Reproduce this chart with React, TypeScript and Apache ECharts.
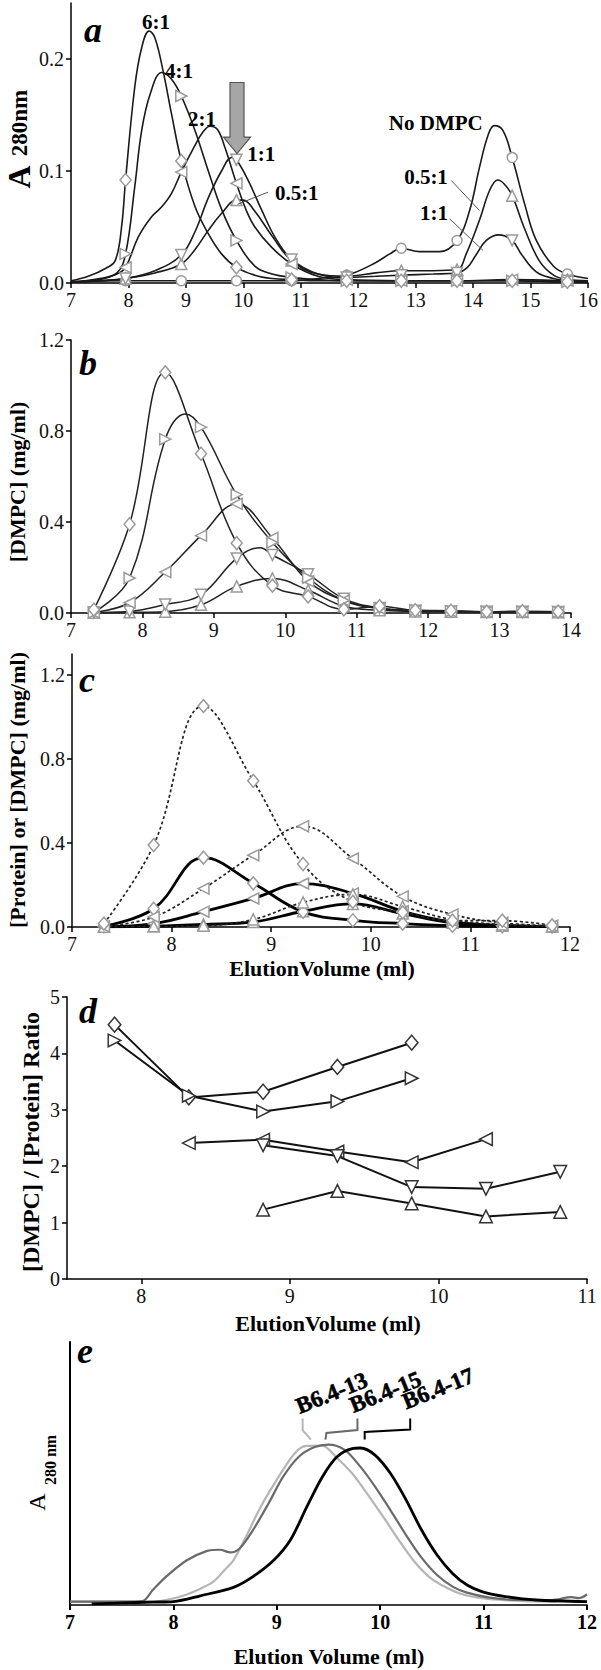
import React, { useEffect, useRef } from "react";
import * as echarts from "echarts";

type Pt = [number, number];

const SERIF = '"Liberation Serif", "Times New Roman", serif';

// ---------------- Panel a : A280 elution profiles ----------------
const A_MARKER_X = [7.95, 8.92, 9.88, 10.84, 11.8, 12.75, 13.72, 14.68, 15.64];
const A_61: Pt[] = [[7.0,0.002],[7.3,0.006],[7.6,0.013],[7.77,0.02],[7.88,0.05],[7.95,0.092],[8.11,0.175],[8.23,0.21],[8.36,0.225],[8.46,0.219],[8.6,0.19],[8.75,0.151],[8.92,0.109],[9.16,0.068],[9.39,0.044],[9.62,0.026],[9.88,0.014],[10.2,0.007],[10.5,0.004],[10.84,0.003],[11.3,0.002],[11.8,0.002],[12.75,0.002],[13.72,0.002],[14.68,0.002],[15.64,0.001],[16.0,0.001]];
const A_41: Pt[] = [[7.0,0.001],[7.5,0.004],[7.8,0.009],[7.95,0.026],[8.11,0.086],[8.23,0.136],[8.38,0.169],[8.58,0.188],[8.75,0.182],[8.92,0.167],[9.16,0.136],[9.39,0.1],[9.62,0.066],[9.88,0.038],[10.2,0.015],[10.5,0.008],[10.84,0.005],[11.3,0.003],[11.8,0.002],[12.75,0.002],[13.72,0.002],[14.68,0.002],[15.64,0.001],[16.0,0.001]];
const A_21: Pt[] = [[7.0,0.001],[7.5,0.003],[7.8,0.008],[7.95,0.014],[8.17,0.041],[8.4,0.059],[8.58,0.068],[8.75,0.08],[8.92,0.099],[9.16,0.123],[9.3,0.135],[9.42,0.14],[9.55,0.137],[9.68,0.121],[9.88,0.089],[10.05,0.065],[10.2,0.05],[10.49,0.032],[10.84,0.017],[11.3,0.006],[11.8,0.003],[12.75,0.002],[13.72,0.002],[14.68,0.003],[15.64,0.002],[16.0,0.001]];
const A_11: Pt[] = [[7.0,0.001],[7.5,0.002],[7.95,0.004],[8.46,0.011],[8.92,0.025],[9.16,0.046],[9.39,0.076],[9.62,0.1],[9.8,0.112],[9.88,0.11],[10.08,0.092],[10.32,0.065],[10.55,0.041],[10.84,0.021],[11.3,0.008],[11.8,0.005],[12.3,0.006],[12.75,0.007],[13.3,0.008],[13.72,0.009],[13.9,0.014],[14.05,0.025],[14.23,0.038],[14.45,0.043],[14.68,0.038],[14.85,0.025],[15.1,0.01],[15.4,0.004],[15.64,0.002],[16.0,0.001]];
const A_051: Pt[] = [[7.0,0.001],[7.5,0.002],[7.95,0.004],[8.46,0.009],[8.92,0.017],[9.16,0.03],[9.39,0.047],[9.62,0.062],[9.88,0.074],[10.0,0.074],[10.2,0.064],[10.5,0.042],[10.84,0.02],[11.3,0.008],[11.8,0.006],[12.3,0.009],[12.75,0.011],[13.3,0.011],[13.72,0.012],[13.88,0.026],[14.11,0.056],[14.29,0.083],[14.43,0.092],[14.55,0.088],[14.68,0.078],[14.9,0.048],[15.15,0.02],[15.4,0.007],[15.64,0.003],[16.0,0.002]];
const A_NODMPC: Pt[] = [[7.0,0.001],[7.95,0.002],[8.92,0.002],[9.88,0.002],[10.84,0.002],[11.3,0.004],[11.8,0.007],[12.26,0.017],[12.55,0.026],[12.75,0.031],[13.07,0.028],[13.42,0.028],[13.72,0.038],[13.94,0.065],[14.11,0.103],[14.26,0.132],[14.37,0.1405],[14.52,0.136],[14.68,0.112],[14.9,0.07],[15.1,0.038],[15.4,0.015],[15.64,0.008],[16.0,0.004]];
const A_Y_LABELS = [0, 0.1, 0.2];

// ---------------- Panel b : [DMPC] ----------------
const B_X = [7.32, 7.82, 8.32, 8.82, 9.32, 9.82, 10.32, 10.82, 11.32, 11.82, 12.32, 12.82, 13.32, 13.82];
const B_61: Pt[] = [[7.32,0.015],[7.82,0.39],[8.32,1.058],[8.82,0.7],[9.32,0.307],[9.82,0.12],[10.32,0.073],[10.82,0.016],[11.32,0.03],[11.82,0.012],[12.32,0.01],[12.82,0.006],[13.32,0.008],[13.82,0.006]];
const B_41: Pt[] = [[7.32,0.003],[7.82,0.154],[8.32,0.764],[8.6,0.875],[8.82,0.817],[9.32,0.52],[9.82,0.31],[10.32,0.155],[10.82,0.055],[11.32,0.02],[11.82,0.012],[12.32,0.008],[12.82,0.006],[13.32,0.006],[13.82,0.005]];
const B_21: Pt[] = [[7.32,0.002],[7.82,0.045],[8.32,0.18],[8.82,0.34],[9.32,0.48],[9.82,0.33],[10.32,0.14],[10.82,0.055],[11.32,0.02],[11.82,0.01],[12.32,0.007],[12.82,0.005],[13.32,0.005],[13.82,0.004]];
const B_11: Pt[] = [[7.32,0.002],[7.82,0.007],[8.32,0.037],[8.82,0.08],[9.32,0.24],[9.65,0.287],[9.82,0.255],[10.32,0.17],[10.82,0.063],[11.32,0.022],[11.82,0.01],[12.32,0.007],[12.82,0.005],[13.32,0.005],[13.82,0.004]];
const B_051: Pt[] = [[7.32,0.001],[7.82,0.003],[8.32,0.006],[8.82,0.036],[9.32,0.117],[9.82,0.152],[10.32,0.1],[10.82,0.03],[11.32,0.012],[11.82,0.007],[12.32,0.005],[12.82,0.004],[13.32,0.004],[13.82,0.003]];
const B_Y_LABELS = [0, 0.4, 0.8, 1.2];

// ---------------- Panel c : [Protein] (solid) or [DMPC] (dotted) ----------------
const C_X = [7.32, 7.82, 8.32, 8.82, 9.32, 9.82, 10.32, 10.82, 11.32, 11.82];
const C_61_DMPC: Pt[] = [[7.32,0.016],[7.82,0.39],[8.32,1.052],[8.82,0.696],[9.32,0.3],[9.82,0.12],[10.32,0.07],[10.82,0.03],[11.32,0.03],[11.82,0.008]];
const C_61_PROT: Pt[] = [[7.32,0.003],[7.82,0.087],[8.32,0.33],[8.82,0.208],[9.32,0.072],[9.82,0.032],[10.32,0.016],[10.82,0.006],[11.32,0.003],[11.82,0.002]];
const C_21_DMPC: Pt[] = [[7.32,0.003],[7.82,0.048],[8.32,0.183],[8.82,0.342],[9.32,0.48],[9.82,0.326],[10.32,0.146],[10.82,0.06],[11.32,0.02],[11.82,0.006]];
const C_21_PROT: Pt[] = [[7.32,0.002],[7.82,0.016],[8.32,0.073],[8.82,0.136],[9.32,0.207],[9.82,0.16],[10.32,0.075],[10.82,0.024],[11.32,0.008],[11.82,0.003]];
const C_051_DMPC: Pt[] = [[7.32,0.001],[7.82,0.003],[8.32,0.006],[8.82,0.036],[9.32,0.117],[9.82,0.155],[10.32,0.097],[10.82,0.035],[11.32,0.012],[11.82,0.004]];
const C_051_PROT: Pt[] = [[7.32,0.001],[7.82,0.004],[8.32,0.012],[8.82,0.024],[9.32,0.075],[9.82,0.11],[10.32,0.064],[10.82,0.02],[11.32,0.006],[11.82,0.002]];
const C_Y_LABELS = [0, 0.4, 0.8, 1.2];

// ---------------- Panel d : [DMPC]/[Protein] ratio ----------------
const D_61: Pt[] = [[7.82,4.51],[8.32,3.22],[8.82,3.32],[9.32,3.76],[9.82,4.19]];
const D_41: Pt[] = [[7.82,4.23],[8.32,3.25],[8.82,2.97],[9.32,3.15],[9.82,3.56]];
const D_21: Pt[] = [[8.32,2.41],[8.82,2.47],[9.32,2.26],[9.82,2.07],[10.32,2.48]];
const D_11: Pt[] = [[8.82,2.37],[9.32,2.18],[9.82,1.63],[10.32,1.6],[10.82,1.9]];
const D_051: Pt[] = [[8.82,1.23],[9.32,1.56],[9.82,1.34],[10.32,1.11],[10.82,1.19]];
const D_X_LABELS = [8, 9, 10, 11];

// ---------------- Panel e : A280 of B6.4 peptides ----------------
const E_13: Pt[] = [[7.0,0.013],[7.5,0.013],[7.84,0.014],[8.0,0.025],[8.13,0.04],[8.25,0.06],[8.39,0.09],[8.5,0.135],[8.58,0.17],[8.69,0.25],[8.84,0.37],[8.99,0.47],[9.14,0.56],[9.22,0.595],[9.29,0.605],[9.44,0.606],[9.58,0.56],[9.73,0.5],[9.88,0.42],[10.03,0.335],[10.18,0.247],[10.32,0.17],[10.47,0.108],[10.62,0.07],[10.77,0.044],[10.95,0.028],[11.14,0.02],[11.4,0.015],[11.7,0.013]];
const E_15: Pt[] = [[7.0,0.013],[7.5,0.013],[7.7,0.015],[7.8,0.057],[7.93,0.108],[8.13,0.17],[8.32,0.205],[8.45,0.21],[8.55,0.2],[8.64,0.215],[8.77,0.285],[8.92,0.386],[9.06,0.487],[9.21,0.563],[9.36,0.6],[9.5,0.61],[9.66,0.589],[9.81,0.525],[9.95,0.45],[10.1,0.36],[10.25,0.266],[10.4,0.18],[10.55,0.114],[10.7,0.07],[10.84,0.047],[11.06,0.028],[11.33,0.019],[11.66,0.019],[11.85,0.03],[11.92,0.026],[12.0,0.04]];
const E_17: Pt[] = [[7.21,0.004],[7.5,0.008],[7.8,0.011],[8.0,0.013],[8.26,0.035],[8.58,0.067],[8.77,0.108],[8.97,0.17],[9.13,0.246],[9.29,0.373],[9.44,0.487],[9.58,0.563],[9.73,0.595],[9.81,0.597],[9.95,0.57],[10.1,0.5],[10.25,0.4],[10.4,0.285],[10.55,0.19],[10.7,0.12],[10.84,0.076],[10.99,0.05],[11.21,0.032],[11.51,0.019],[12.0,0.013]];

// ---------------- helpers ----------------
const SYM: Record<string, { symbol: string; rotate: number; size: number | number[] }> = {
  diamond: { symbol: "diamond", rotate: 0, size: [11, 13] },
  right: { symbol: "triangle", rotate: -90, size: 11 },
  left: { symbol: "triangle", rotate: 90, size: 11 },
  down: { symbol: "triangle", rotate: 180, size: 11 },
  up: { symbol: "triangle", rotate: 0, size: 11 },
  circle: { symbol: "circle", rotate: 0, size: 10 },
};

function curve(i: number, data: Pt[], color: string, width: number, type: any = "solid", smooth: number | boolean = 0.4) {
  return {
    type: "line", xAxisIndex: i, yAxisIndex: i, data, symbol: "none", showSymbol: false,
    smooth, lineStyle: { color, width, type }, z: 2, silent: true,
  };
}

function marks(i: number, data: Pt[], xs: number[] | null, shape: string, stroke: string, scale = 1) {
  const s = SYM[shape];
  const pts = xs ? data.filter((p) => xs.some((x) => Math.abs(x - p[0]) < 1e-6)) : data;
  const size = Array.isArray(s.size) ? s.size.map((v) => v * scale) : s.size * scale;
  return {
    type: "scatter", xAxisIndex: i, yAxisIndex: i, data: pts, symbol: s.symbol, symbolRotate: s.rotate,
    symbolSize: size, itemStyle: { color: "#fff", borderColor: stroke, borderWidth: 1.5, opacity: 1 }, z: 5, silent: true,
  };
}

const tickFont = { fontFamily: SERIF, fontSize: 20, color: "#111" };
const axLine = { show: true, onZero: false, lineStyle: { color: "#000", width: 1.5 } };
const axTick = { show: true, length: 5, lineStyle: { color: "#000", width: 1.5 } };

function xAxis(i: number, min: number, max: number, extra: any = {}) {
  return {
    type: "value", gridIndex: i, min, max, interval: 1,
    axisLine: axLine, axisTick: { ...axTick, ...(extra.tick || {}) }, splitLine: { show: false },
    axisLabel: { ...tickFont, margin: 7, ...(extra.label || {}) },
  };
}
function yAxis(i: number, min: number, max: number, interval: number, labels: number[] | null, fmt: (v: number) => string) {
  return {
    type: "value", gridIndex: i, min, max, interval,
    axisLine: axLine,
    axisTick: labels ? { ...axTick, customValues: labels } : axTick,
    splitLine: { show: false },
    axisLabel: labels
      ? { ...tickFont, margin: 7, customValues: labels, formatter: fmt }
      : { ...tickFont, margin: 7, formatter: fmt },
  };
}

const GRAY = "#9a9a9a";

export default function App() {
  const ref = useRef<HTMLDivElement>(null);
  useEffect(() => {
    if (!ref.current) return;
    const chart = echarts.init(ref.current, undefined, { renderer: "svg" });
    const f1 = (v: number) => v.toFixed(1);
    const g = (left: number, top: number, width: number, height: number) => ({
      left, top, width, height, containLabel: false, outerBoundsMode: "none",
    });
    const option: any = {
      animation: false,
      backgroundColor: "#fff",
      grid: [
        g(71, 3, 517, 280),
        g(71, 340, 500, 273),
        g(72, 654, 498, 273),
        g(67, 997, 520, 282),
        g(70, 1342, 517, 263),
      ],
      xAxis: [
        xAxis(0, 7, 16),
        xAxis(1, 7, 14),
        xAxis(2, 7, 12),
        {
          type: "value", gridIndex: 3, min: 7.5, max: 11, interval: 0.5,
          axisLine: axLine, axisTick: { ...axTick, customValues: D_X_LABELS }, splitLine: { show: false },
          axisLabel: { ...tickFont, margin: 7, customValues: D_X_LABELS },
        },
        xAxis(4, 7, 12, { label: { fontWeight: "bold", color: "#000" }, tick: { lineStyle: { color: "#000", width: 2 } } }),
      ],
      yAxis: [
        yAxis(0, 0, 0.25, 0.05, A_Y_LABELS, f1),
        yAxis(1, 0, 1.2, 0.4, B_Y_LABELS, f1),
        yAxis(2, 0, 1.3, 0.1, C_Y_LABELS, f1),
        yAxis(3, 0, 5, 1, null, (v: number) => String(v)),
        {
          type: "value", gridIndex: 4, min: 0, max: 1,
          axisLine: { show: true, onZero: false, lineStyle: { color: "#000", width: 2 } },
          axisTick: { show: false }, axisLabel: { show: false }, splitLine: { show: false },
        },
      ],
      series: [
        // panel a
        curve(0, A_NODMPC, "#1a1a1a", 1.6),
        curve(0, A_051, "#1a1a1a", 1.6),
        curve(0, A_11, "#1a1a1a", 1.6),
        curve(0, A_21, "#1a1a1a", 1.6),
        curve(0, A_41, "#1a1a1a", 1.6),
        curve(0, A_61, "#1a1a1a", 1.6),
        marks(0, A_NODMPC, A_MARKER_X, "circle", GRAY),
        marks(0, A_051, A_MARKER_X, "up", GRAY),
        marks(0, A_11, A_MARKER_X, "down", GRAY),
        marks(0, A_21, A_MARKER_X, "left", GRAY),
        marks(0, A_41, A_MARKER_X, "right", GRAY),
        marks(0, A_61, A_MARKER_X, "diamond", GRAY),
        // panel b
        curve(1, B_051, "#222", 1.5),
        curve(1, B_11, "#222", 1.5),
        curve(1, B_21, "#222", 1.5),
        curve(1, B_41, "#222", 1.5),
        curve(1, B_61, "#222", 1.5),
        marks(1, B_051, B_X, "up", GRAY),
        marks(1, B_11, B_X, "down", GRAY),
        marks(1, B_21, B_X, "left", GRAY),
        marks(1, B_41, B_X, "right", GRAY),
        marks(1, B_61, B_X, "diamond", GRAY),
        // panel c
        curve(2, C_051_PROT, "#000", 2.8),
        curve(2, C_21_PROT, "#000", 2.8),
        curve(2, C_61_PROT, "#000", 2.8),
        curve(2, C_051_DMPC, "#222", 1.7, [3, 2.5]),
        curve(2, C_21_DMPC, "#222", 1.7, [3, 2.5]),
        curve(2, C_61_DMPC, "#222", 1.7, [3, 2.5]),
        marks(2, C_051_PROT, C_X, "up", GRAY),
        marks(2, C_21_PROT, C_X, "left", GRAY),
        marks(2, C_61_PROT, C_X, "diamond", GRAY),
        marks(2, C_051_DMPC, C_X, "up", GRAY),
        marks(2, C_21_DMPC, C_X, "left", GRAY),
        marks(2, C_61_DMPC, C_X, "diamond", GRAY),
        // panel d
        curve(3, D_61, "#111", 2, "solid", false),
        curve(3, D_41, "#111", 2, "solid", false),
        curve(3, D_21, "#111", 2, "solid", false),
        curve(3, D_11, "#111", 2, "solid", false),
        curve(3, D_051, "#111", 2, "solid", false),
        marks(3, D_61, null, "diamond", "#333", 1.15),
        marks(3, D_41, null, "right", "#333", 1.15),
        marks(3, D_21, null, "left", "#333", 1.15),
        marks(3, D_11, null, "down", "#333", 1.15),
        marks(3, D_051, null, "up", "#333", 1.15),
        // panel e
        curve(4, E_13, "#b5b5b5", 2.2, "solid", 0.3),
        curve(4, E_15, "#6a6a6a", 2.2, "solid", 0.3),
        curve(4, E_17, "#000", 2.8, "solid", 0.3),
      ],
    };
    chart.setOption(option);

    const P = (gi: number, p: Pt) => chart.convertToPixel({ gridIndex: gi }, p) as number[];
    const txt = (text: string, x: number, y: number, size: number, o: any = {}) => ({
      type: "text", x, y, rotation: o.rotation || 0, z: 100,
      style: {
        text, fontFamily: SERIF, fontSize: size, fontWeight: o.weight || "bold", fontStyle: o.style || "normal",
        fill: o.fill || "#000", align: o.align || "center", verticalAlign: "middle",
        ...(o.heavy ? { stroke: "#000", lineWidth: 0.6 } : {}),
      },
    });
    const dtxt = (gi: number, text: string, p: Pt, size: number, o: any = {}) => {
      const q = P(gi, p);
      return txt(text, q[0], q[1], size, o);
    };
    const dline = (gi: number, pts: Pt[], stroke: string, width: number) => ({
      type: "polyline", z: 100, shape: { points: pts.map((p) => P(gi, p)) },
      style: { stroke, lineWidth: width, fill: null },
    });
    const tip = P(0, [9.89, 0.1156]);
    const top = P(0, [9.89, 0.179]);
    const R = Math.PI / 2;
    const rot = (22 * Math.PI) / 180;
    const graphics: any[] = [
      // panel letters
      txt("a", 84, 30, 36, { style: "italic", align: "left" }),
      txt("b", 79, 363, 36, { style: "italic", align: "left" }),
      txt("c", 79, 680, 36, { style: "italic", align: "left" }),
      txt("d", 79, 1011, 36, { style: "italic", align: "left" }),
      txt("e", 77, 1351, 36, { style: "italic", align: "left" }),
      // axis titles
      txt("A", 19, 177, 32, { rotation: R }),
      txt("280nm", 19, 123, 23, { rotation: R }),
      txt("[DMPC] (mg/ml)", 17, 482, 22, { rotation: R }),
      txt("[Protein] or [DMPC] (mg/ml)", 17, 790, 22, { rotation: R }),
      txt("[DMPC] / [Protein] Ratio", 31, 1142, 24, { rotation: R }),
      txt("A", 37, 1502, 24, { rotation: R, weight: "normal" }),
      txt("280 nm", 50, 1460, 16, { rotation: R }),
      txt("ElutionVolume (ml)", 322, 968, 22),
      txt("ElutionVolume (ml)", 328, 1323, 22),
      txt("Elution Volume (ml)", 329, 1656, 22),
      // panel a labels
      dtxt(0, "6:1", [8.48, 0.2326], 21),
      dtxt(0, "4:1", [8.88, 0.1896], 21),
      dtxt(0, "2:1", [9.28, 0.1468], 21),
      dtxt(0, "1:1", [10.31, 0.1156], 21),
      dtxt(0, "0.5:1", [10.93, 0.0808], 21),
      dtxt(0, "No DMPC", [13.35, 0.1428], 21),
      dtxt(0, "0.5:1", [13.18, 0.0942], 21),
      dtxt(0, "1:1", [13.32, 0.0621], 21),
      dline(0, [[10.43, 0.0811], [9.9, 0.0703]], "#555", 1),
      dline(0, [[13.62, 0.0915], [14.11, 0.0648]], "#555", 1),
      dline(0, [[13.59, 0.0574], [14.17, 0.0291]], "#555", 1),
      {
        type: "polygon", z: 100,
        shape: {
          points: [
            [tip[0] - 7, top[1]], [tip[0] + 7, top[1]], [tip[0] + 7, tip[1] - 16.5], [tip[0] + 13.5, tip[1] - 16.5],
            [tip[0], tip[1]], [tip[0] - 13.5, tip[1] - 16.5], [tip[0] - 7, tip[1] - 16.5],
          ],
        },
        style: { fill: "#a6a6a6", stroke: "#555", lineWidth: 1.2 },
      },
      // panel e labels
      dtxt(4, "B6.4-13", [9.53, 0.806], 23, { rotation: rot, heavy: true }),
      dtxt(4, "B6.4-15", [10.05, 0.81], 23, { rotation: rot, heavy: true }),
      dtxt(4, "B6.4-17", [10.56, 0.823], 23, { rotation: rot, heavy: true }),
      dline(4, [[9.25, 0.709], [9.25, 0.665], [9.33, 0.629]], "#b5b5b5", 2),
      dline(4, [[9.78, 0.709], [9.78, 0.665], [9.48, 0.654], [9.47, 0.629]], "#6a6a6a", 2),
      dline(4, [[10.29, 0.709], [10.29, 0.667], [9.85, 0.658], [9.85, 0.629]], "#000", 2),
    ];
    chart.setOption({ graphic: graphics });
    return () => chart.dispose();
  }, []);
  return (
    <div
      ref={ref}
      style={{ position: "absolute", left: 0, top: 0, width: 601, height: 1670, background: "#fff" }}
    />
  );
}
